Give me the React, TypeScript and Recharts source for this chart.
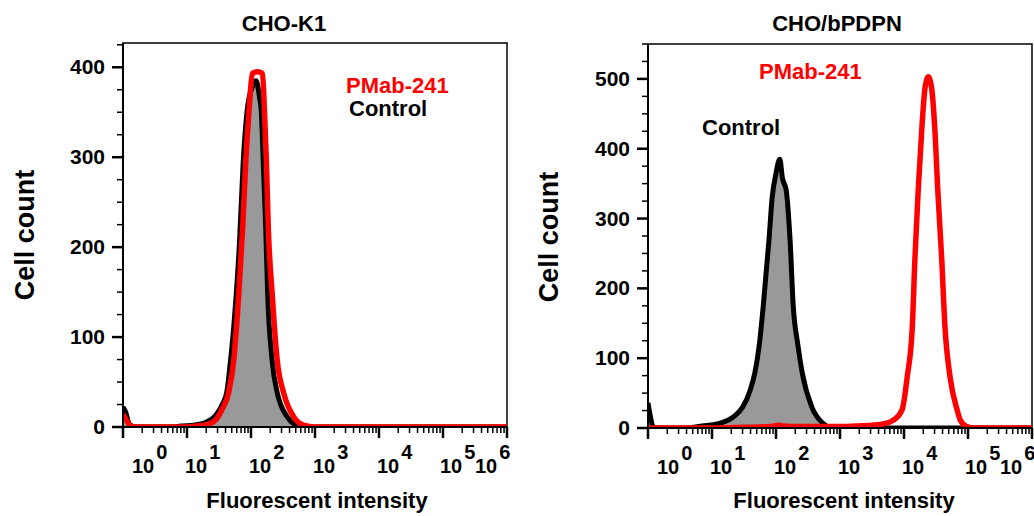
import { ComposedChart, Area, Line, XAxis, YAxis, ReferenceArea } from 'recharts';

const FONT = '"Liberation Sans", Arial, Helvetica, sans-serif';

// histograms: x = log10 of fluorescent intensity, y = cell count
const choK1Control = [
  { x: 0, y: 22 }, { x: 0.04, y: 17 }, { x: 0.1, y: 3 }, { x: 0.2, y: 0 }, { x: 0.8, y: 0 },
  { x: 0.9, y: 1 }, { x: 1.1, y: 2 }, { x: 1.29, y: 5 }, { x: 1.45, y: 13 }, { x: 1.55, y: 25 },
  { x: 1.62, y: 38 }, { x: 1.68, y: 74 }, { x: 1.73, y: 111 }, { x: 1.77, y: 148 }, { x: 1.82, y: 205 },
  { x: 1.88, y: 297 }, { x: 1.94, y: 352 }, { x: 2.02, y: 378 }, { x: 2.08, y: 385 }, { x: 2.13, y: 368 },
  { x: 2.16, y: 352 }, { x: 2.19, y: 297 }, { x: 2.23, y: 222 }, { x: 2.26, y: 149 }, { x: 2.33, y: 74 },
  { x: 2.41, y: 38 }, { x: 2.57, y: 11 }, { x: 2.66, y: 4 }, { x: 2.8, y: 1 }, { x: 3, y: 0 }, { x: 6, y: 0 },
];

const choK1Pmab = [
  { x: 0, y: 14 }, { x: 0.05, y: 8 }, { x: 0.12, y: 1 }, { x: 0.25, y: 0 }, { x: 1.0, y: 0 },
  { x: 1.15, y: 1 }, { x: 1.33, y: 3 }, { x: 1.45, y: 8 }, { x: 1.55, y: 20 }, { x: 1.65, y: 38 },
  { x: 1.73, y: 74 }, { x: 1.81, y: 149 }, { x: 1.87, y: 222 }, { x: 1.92, y: 297 }, { x: 1.97, y: 352 },
  { x: 2.02, y: 393 }, { x: 2.1, y: 395 }, { x: 2.18, y: 393 }, { x: 2.21, y: 352 }, { x: 2.24, y: 297 },
  { x: 2.27, y: 222 }, { x: 2.33, y: 149 }, { x: 2.41, y: 74 }, { x: 2.51, y: 38 }, { x: 2.66, y: 12 },
  { x: 2.82, y: 2 }, { x: 3, y: 0 }, { x: 6, y: 0 },
];

const bpdpnControl = [
  { x: 0, y: 36 }, { x: 0.03, y: 20 }, { x: 0.08, y: 2 }, { x: 0.15, y: 0 }, { x: 0.6, y: 0 },
  { x: 0.77, y: 2 }, { x: 1.13, y: 7 }, { x: 1.35, y: 17 }, { x: 1.48, y: 30 }, { x: 1.6, y: 55 },
  { x: 1.67, y: 79 }, { x: 1.74, y: 120 }, { x: 1.8, y: 174 }, { x: 1.89, y: 269 }, { x: 1.94, y: 330 },
  { x: 2.0, y: 365 }, { x: 2.06, y: 385 }, { x: 2.1, y: 358 }, { x: 2.16, y: 340 }, { x: 2.22, y: 269 },
  { x: 2.27, y: 174 }, { x: 2.34, y: 120 }, { x: 2.41, y: 79 }, { x: 2.56, y: 30 }, { x: 2.73, y: 7 },
  { x: 2.89, y: 0 }, { x: 6, y: 0 },
];

const bpdpnPmab = [
  { x: 0, y: 0 }, { x: 1.0, y: 0 }, { x: 1.5, y: 1 }, { x: 1.9, y: 2 }, { x: 2.05, y: 4 },
  { x: 2.1, y: 3 }, { x: 2.4, y: 2 }, { x: 3.0, y: 2 }, { x: 3.3, y: 3 }, { x: 3.5, y: 4 },
  { x: 3.63, y: 5 }, { x: 3.83, y: 11 }, { x: 3.97, y: 26 }, { x: 4.05, y: 73 }, { x: 4.13, y: 145 },
  { x: 4.17, y: 241 }, { x: 4.22, y: 337 }, { x: 4.28, y: 431 }, { x: 4.33, y: 488 }, { x: 4.38, y: 503 },
  { x: 4.43, y: 488 }, { x: 4.48, y: 431 }, { x: 4.53, y: 337 }, { x: 4.59, y: 241 }, { x: 4.64, y: 145 },
  { x: 4.72, y: 73 }, { x: 4.83, y: 26 }, { x: 4.88, y: 11 }, { x: 4.98, y: 2 }, { x: 5.1, y: 0 }, { x: 6, y: 0 },
];

const decades = [0, 1, 2, 3, 4, 5, 6];
const decadeLabels = ['0', '1', '2', '3', '4', '5', '6'];

// log minor ticks inside each decade
const minorTicks = decades.slice(0, -1).flatMap((d) => [2, 3, 4, 5, 6, 7, 8, 9].map((m) => d + Math.log10(m)));
const xTicks = [...decades, ...minorTicks].sort((a, b) => a - b);
const countTicks = (max: number) => Array.from({ length: Math.floor(max / 25) + 1 }, (_, i) => i * 25);

const XTick = (props: any) => {
  const { x, y, payload } = props;
  const v = payload.value;
  const k = Math.round(v);
  const major = Math.abs(v - k) < 1e-6;
  if (!major) return <line x1={x} x2={x} y1={y} y2={y + 6} stroke="#000" strokeWidth={1.5} />;
  const shift = k === 0 ? 9 : k === 6 ? -32 : k === 5 ? -3 : -2;
  return (
    <g>
      <line x1={x} x2={x} y1={y} y2={y + 11} stroke="#000" strokeWidth={2.5} />
      <text x={x + shift} y={y + 46} fontFamily={FONT} fontWeight="bold" fontSize={20} fill="#000">
        10<tspan dx={2} dy={-14}>{decadeLabels[k]}</tspan>
      </text>
    </g>
  );
};

const YTick = (props: any) => {
  const { x, y, payload } = props;
  const major = payload.value % 100 === 0;
  return (
    <g>
      <line x1={x - (major ? 11 : 6)} x2={x} y1={y} y2={y} stroke="#000" strokeWidth={major ? 2.5 : 1.5} />
      {major && (
        <text x={x - 18} y={y + 7} textAnchor="end" fontFamily={FONT} fontWeight="bold" fontSize={21} fill="#000">
          {payload.value}
        </text>
      )}
    </g>
  );
};

interface PanelProps {
  left: number;
  width: number;
  margin: { top: number; left: number; right: number; bottom: number };
  yMax: number;
  control: { x: number; y: number }[];
  pmab: { x: number; y: number }[];
}

const Panel = ({ left, width, margin, yMax, control, pmab }: PanelProps) => (
  <div style={{ position: 'absolute', left, top: 0 }}>
    <ComposedChart width={width} height={516} margin={margin}>
      <XAxis
        type="number"
        dataKey="x"
        domain={[0, 6]}
        ticks={xTicks}
        interval={0}
        tickSize={0}
        tickMargin={0}
        tick={<XTick />}
        height={60}
        axisLine={{ stroke: '#000', strokeWidth: 2 }}
        allowDataOverflow
      />
      <YAxis
        type="number"
        domain={[0, yMax]}
        ticks={countTicks(yMax)}
        interval={0}
        tickSize={0}
        tickMargin={0}
        tick={<YTick />}
        width={60}
        axisLine={{ stroke: '#000', strokeWidth: 2 }}
        allowDataOverflow
      />
      <ReferenceArea x1={0} x2={6} y1={0} y2={yMax} fillOpacity={0} stroke="#000" strokeWidth={1.5} />
      <Area
        data={control}
        dataKey="y"
        type="monotone"
        fill="#999999"
        fillOpacity={1}
        stroke="#000"
        strokeWidth={5}
        isAnimationActive={false}
      />
      <Line
        data={pmab}
        dataKey="y"
        type="monotone"
        stroke="#ff0000"
        strokeWidth={5.5}
        dot={false}
        isAnimationActive={false}
      />
    </ComposedChart>
  </div>
);

const txt = (extra: React.CSSProperties): React.CSSProperties => ({
  position: 'absolute',
  fontFamily: FONT,
  fontWeight: 'bold',
  lineHeight: 1,
  whiteSpace: 'nowrap',
  ...extra,
});

const App = () => (
  <div style={{ position: 'absolute', left: 0, top: 0, width: 1034, height: 516, background: '#fff', overflow: 'hidden' }}>
    <Panel
      left={0}
      width={520}
      margin={{ top: 43, left: 63, right: 13, bottom: 29 }}
      yMax={427}
      control={choK1Control}
      pmab={choK1Pmab}
    />
    <Panel
      left={520}
      width={514}
      margin={{ top: 44, left: 68, right: 2, bottom: 28 }}
      yMax={550}
      control={bpdpnControl}
      pmab={bpdpnPmab}
    />

    <div style={txt({ left: 284, top: 13, fontSize: 22, transform: 'translateX(-50%)' })}>CHO-K1</div>
    <div style={txt({ left: 837, top: 13, fontSize: 22, transform: 'translateX(-50%)' })}>CHO/bPDPN</div>

    <div style={txt({ left: 346, top: 75, fontSize: 22, color: '#ff0000' })}>PMab-241</div>
    <div style={txt({ left: 349, top: 98, fontSize: 22, color: '#000' })}>Control</div>
    <div style={txt({ left: 759, top: 61, fontSize: 22, color: '#ff0000' })}>PMab-241</div>
    <div style={txt({ left: 702, top: 117, fontSize: 22, color: '#000' })}>Control</div>

    <div style={txt({ left: 25, top: 235, fontSize: 27, transform: 'translate(-50%, -50%) rotate(-90deg)' })}>Cell count</div>
    <div style={txt({ left: 549, top: 237, fontSize: 27, transform: 'translate(-50%, -50%) rotate(-90deg)' })}>Cell count</div>

    <div style={txt({ left: 317, top: 490, fontSize: 22, transform: 'translateX(-50%)' })}>Fluorescent intensity</div>
    <div style={txt({ left: 844, top: 490, fontSize: 22, transform: 'translateX(-50%)' })}>Fluorescent intensity</div>
  </div>
);

export default App;
